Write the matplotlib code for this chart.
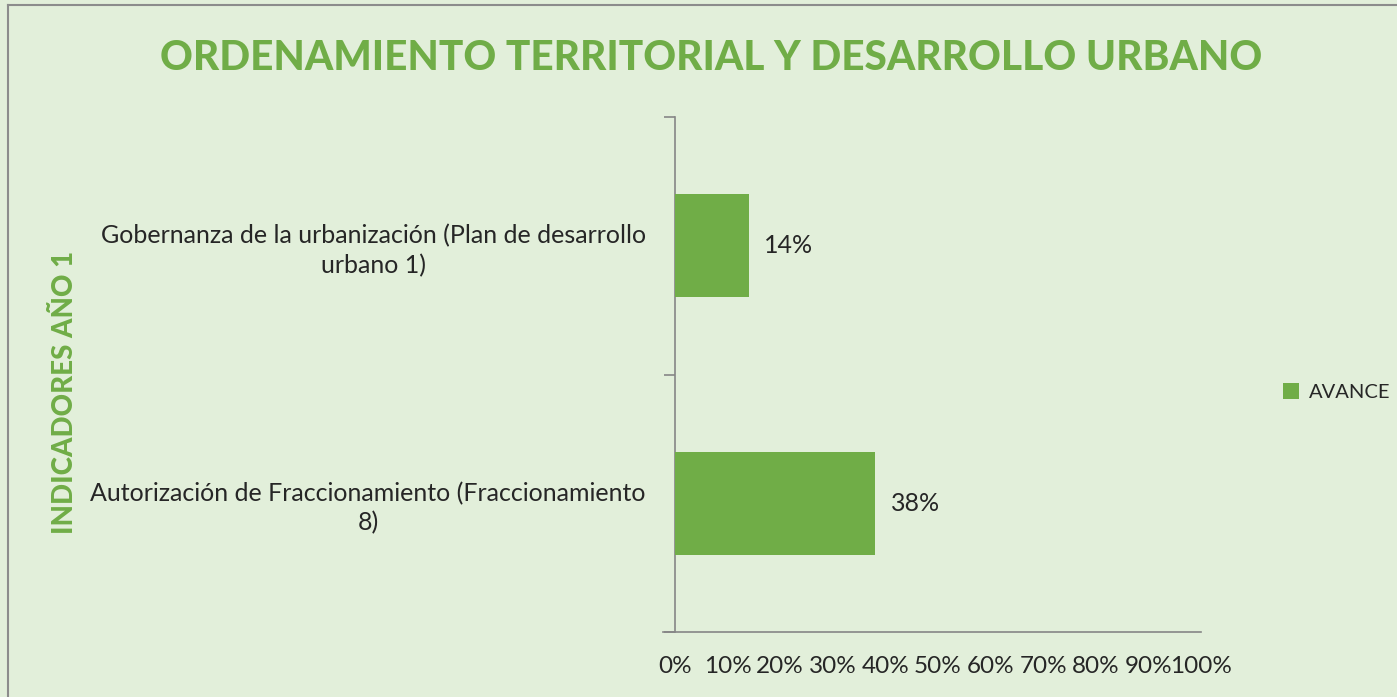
import matplotlib
matplotlib.use("Agg")
import matplotlib.pyplot as plt
from matplotlib.patches import Patch
from matplotlib.lines import Line2D

categories = ["Autorización de Fraccionamiento (Fraccionamiento\n8)",
              "Gobernanza de la urbanización (Plan de desarrollo\nurbano 1)"]
avance = [0.38, 0.14]
x_ticks = [0, 0.1, 0.2, 0.3, 0.4, 0.5, 0.6, 0.7, 0.8, 0.9, 1.0]
x_labels = ["0%", "10%", "20%", "30%", "40%", "50%", "60%", "70%", "80%", "90%", "100%"]
title = "ORDENAMIENTO TERRITORIAL Y DESARROLLO URBANO"
ylabel = "INDICADORES AÑO 1"
series_name = "AVANCE"

BG = "#E2EFDA"
GREEN = "#70AD47"
TXT = "#262626"
FONT = ["Lato", "DejaVu Sans"]
plt.rcParams['font.family'] = FONT

W, H = 1397, 697
fig = plt.figure(figsize=(W / 100, H / 100), dpi=100, facecolor=BG)
ax = fig.add_axes([675 / W, 1 - 632 / H, (1201 - 675) / W, (632 - 117) / H])
ax.set_facecolor(BG)

ypos = list(range(len(categories)))
ax.barh(ypos, avance, height=0.4, color=GREEN, zorder=3)
for y, v in zip(ypos, avance):
    ax.text(v + 0.03, y, f"{round(v*100)}%", va="center", ha="left",
            fontsize=18, color=TXT)

ax.set_xlim(0, 1)
ax.set_ylim(-0.5, len(categories) - 0.5)
ax.set_xticks(x_ticks)
ax.set_xticklabels(x_labels, fontsize=17.5, color=TXT)
ax.tick_params(axis="x", length=0, pad=17)

ax.set_yticks([i - 0.5 for i in range(len(categories) + 1)])
ax.set_yticklabels([])
ax.tick_params(axis="y", which="major", length=8, color="#868686", width=1.2)
ax.set_yticks(ypos, minor=True)
ax.set_yticklabels(categories, minor=True, fontsize=18, color=TXT,
                   multialignment="center", linespacing=1.3)
ax.tick_params(axis="y", which="minor", length=0, pad=21)

for s in ["top", "right"]:
    ax.spines[s].set_visible(False)
ax.spines["left"].set_color("#868686")
ax.spines["bottom"].set_color("#868686")
ax.spines["left"].set_linewidth(1.2)
ax.spines["bottom"].set_linewidth(1.2)
ax.spines["bottom"].set_bounds(-0.023, 1.0)
ax.spines["bottom"].set_clip_on(False)

fig.text(711 / W, 1 - 58 / H, title, ha="center", va="center",
         fontsize=29.2, fontweight="black", color=GREEN)
fig.text(65 / W, 1 - 392 / H, ylabel, ha="center", va="center",
         rotation=90, fontsize=20, fontweight="black", color=GREEN)

handles = [Patch(facecolor=GREEN, edgecolor="none")]
fig.legend(handles, [series_name], loc="center left",
           bbox_to_anchor=(1265 / W, 1 - 392 / H), frameon=False,
           fontsize=14.5, handlelength=0.8, handleheight=0.8,
           handletextpad=0.5, labelcolor=TXT)

# Figure border (left and top edges visible)
fig.add_artist(Line2D([8 / W, 8 / W], [0, 1 - 5 / H], transform=fig.transFigure,
                      color="#8c8c8c", lw=1.5))
fig.add_artist(Line2D([8 / W, 1], [1 - 5 / H, 1 - 5 / H], transform=fig.transFigure,
                      color="#8c8c8c", lw=1.5))

fig.savefig("out.png", dpi=100, facecolor=BG)
